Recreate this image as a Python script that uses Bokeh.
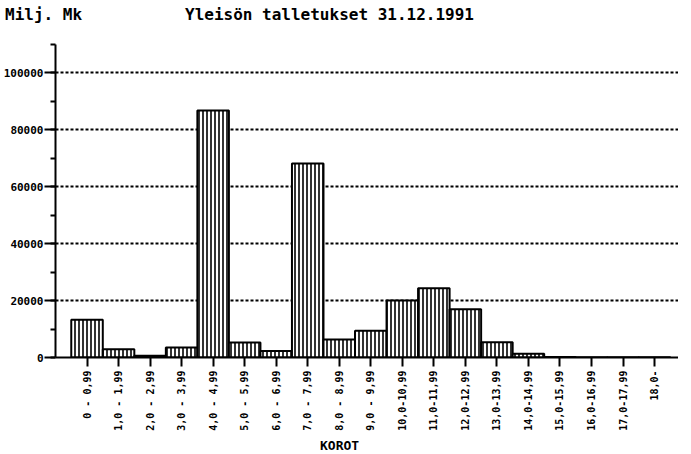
import math
from bokeh.plotting import figure
from bokeh.layouts import column
from bokeh.models import (Range1d, FixedTicker, SingleIntervalTicker, ColumnDataSource,
                          Div, BasicTickFormatter)
from bokeh.embed import file_html
from bokeh.resources import INLINE

# ---- data (milj. mk) ----
categories = ["0 - 0,99", "1,0 - 1,99", "2,0 - 2,99", "3,0 - 3,99", "4,0 - 4,99",
              "5,0 - 5,99", "6,0 - 6,99", "7,0 - 7,99", "8,0 - 8,99", "9,0 - 9,99",
              "10,0-10,99", "11,0-11,99", "12,0-12,99", "13,0-13,99", "14,0-14,99",
              "15,0-15,99", "16,0-16,99", "17,0-17,99", "18,0-"]
deposits = [13300, 2900, 600, 3500, 86800, 5300, 2300, 68200, 6300, 9400,
            20000, 24300, 17000, 5400, 1300, 150, 100, 60, 50]

title_text = "Yleisön talletukset 31.12.1991"
unit_text = "Milj. Mk"
x_title = "KOROT"

FONT = "DejaVu Sans Mono"

positions = list(range(len(categories)))
src = ColumnDataSource(dict(x=positions, top=deposits, label=categories))

top_html = (
    f'<div style="position:relative;width:678px;height:26px;font-family:\'{FONT}\';'
    f'font-weight:bold;font-size:16px;color:black;white-space:pre;">'
    f'<span style="position:absolute;left:0px;top:-1px;">{unit_text}</span>'
    f'<span style="position:absolute;left:180px;top:-1px;">{title_text}</span></div>'
)
top_div = Div(text=top_html, width=678, height=26)

p = figure(width=678, height=397, output_backend="svg", toolbar_location=None,
           x_range=Range1d(-1, 18.76), y_range=Range1d(0, 110000),
           min_border_left=0, min_border_right=0, min_border_top=8, min_border_bottom=72)
p.outline_line_color = None
p.background_fill_color = "white"

p.vbar(x="x", top="top", bottom=0, width=1.0, source=src,
       fill_color="white", line_color="black", line_width=2,
       hatch_pattern="vertical_line", hatch_color="black", hatch_scale=4, hatch_weight=1.6)

# axes
p.xaxis.ticker = FixedTicker(ticks=positions)
p.xaxis.major_label_overrides = {i: c for i, c in zip(positions, categories)}
p.xaxis.major_label_orientation = math.pi / 2
p.xaxis.major_tick_out = 9
p.xaxis.major_tick_in = 0
p.xaxis.minor_tick_out = 0
p.xaxis.major_label_standoff = 4
p.xaxis.axis_line_width = 2
p.xaxis.major_tick_line_width = 2
p.xaxis.major_label_text_font = FONT
p.xaxis.major_label_text_font_style = "bold"
p.xaxis.major_label_text_font_size = "10px"
p.xaxis.major_label_text_color = "black"

p.yaxis.ticker = SingleIntervalTicker(interval=20000, num_minor_ticks=2)
p.yaxis.formatter = BasicTickFormatter(use_scientific=False)
p.yaxis.major_tick_out = 11
p.yaxis.major_tick_in = 0
p.yaxis.minor_tick_out = 5
p.yaxis.minor_tick_in = 0
p.yaxis.major_label_standoff = 1
p.yaxis.axis_line_width = 2
p.yaxis.major_tick_line_width = 2
p.yaxis.minor_tick_line_width = 2
p.yaxis.major_label_text_font = FONT
p.yaxis.major_label_text_font_style = "bold"
p.yaxis.major_label_text_font_size = "11px"
p.yaxis.major_label_text_color = "black"

p.xgrid.grid_line_color = None
p.ygrid.grid_line_color = "black"
p.ygrid.grid_line_width = 2
p.ygrid.grid_line_dash = "3 2"

bottom_html = (
    f'<div style="position:relative;width:678px;height:15px;font-family:\'{FONT}\';'
    f'font-weight:bold;font-size:13px;color:black;white-space:pre;">'
    f'<span style="position:absolute;left:315px;top:-1px;">{x_title}</span></div>'
)
bottom_div = Div(text=bottom_html, width=678, height=15)

layout = column(top_div, p, bottom_div, spacing=0)

open("out.html", "w").write(file_html(layout, INLINE))
